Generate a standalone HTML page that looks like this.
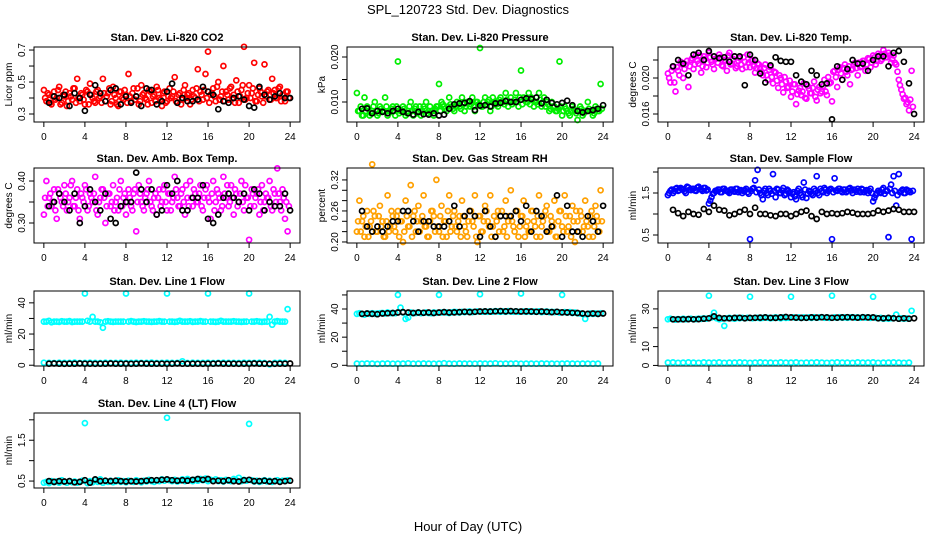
<!DOCTYPE html>
<html><head><meta charset="utf-8"><style>
body{margin:0;background:#fff;}
svg{display:block;font-family:"Liberation Sans",Arial,sans-serif;}
</style></head><body>
<svg id="chart" width="936" height="540" viewBox="0 0 936 540">
<rect x="0" y="0" width="936" height="540" fill="#fff"/>
<text x="468" y="14" text-anchor="middle" font-size="13">SPL_120723  Std. Dev. Diagnostics</text>
<text x="468" y="531" text-anchor="middle" font-size="13">Hour of Day (UTC)</text>
<g id="panels"></g>
</svg>
<script>
// ---- data ----
const co2 = [0.45,0.38,0.42,0.36,0.44,0.40,0.47,0.37,0.41,0.35,0.43,0.39,0.46,0.52,0.38,0.42,0.36,0.44,0.49,0.40,0.37,0.45,0.41,0.52,0.38,0.43,0.36,0.47,0.40,0.35,0.44,0.39,0.42,0.55,0.38,0.46,0.41,0.36,0.48,0.43,0.39,0.45,0.37,0.42,0.47,0.40,0.35,0.44,0.38,0.46,0.41,0.53,0.37,0.43,0.39,0.48,0.42,0.36,0.45,0.40,0.58,0.44,0.39,0.55,0.69,0.42,0.46,0.38,0.50,0.41,0.60,0.44,0.39,0.47,0.42,0.51,0.37,0.45,0.72,0.40,0.48,0.43,0.62,0.38,0.46,0.41,0.61,0.44,0.39,0.52,0.45,0.40,0.47,0.42,0.38,0.44];
const co2B = [0.40,0.43,0.37,0.41,0.39,0.45,0.36,0.42,0.44,0.38,0.41,0.46,0.37,0.40,0.43,0.39,0.45,0.36,0.42,0.38,0.44,0.40,0.37,0.43,0.41,0.46,0.38,0.42,0.36,0.44,0.40,0.45,0.37,0.41,0.43,0.39,0.46,0.38,0.42,0.40,0.36,0.44,0.41,0.38,0.45,0.39,0.43,0.37,0.41,0.40,0.44,0.38,0.42,0.36,0.45,0.40,0.43,0.39,0.41,0.46,0.38,0.42,0.45,0.40,0.37,0.43,0.41,0.47,0.39,0.44,0.38,0.42,0.46,0.40,0.37,0.44,0.41,0.48,0.39,0.43,0.40,0.46,0.38,0.42,0.44,0.37,0.41,0.45,0.39,0.43,0.40,0.46,0.38,0.42,0.44,0.40];
const co2Black = [0.37,0.41,0.40,0.42,0.35,0.43,0.40,0.32,0.42,0.48,0.43,0.38,0.45,0.46,0.36,0.41,0.37,0.41,0.35,0.46,0.45,0.36,0.38,0.44,0.49,0.37,0.40,0.38,0.38,0.39,0.47,0.44,0.42,0.33,0.38,0.37,0.40,0.41,0.39,0.35,0.34,0.47,0.42,0.39,0.41,0.43,0.40,0.40];
const pres = [0.012,0.008,0.007,0.011,0.009,0.007,0.008,0.010,0.007,0.009,0.008,0.011,0.007,0.008,0.009,0.007,0.019,0.008,0.009,0.007,0.008,0.010,0.007,0.009,0.008,0.007,0.009,0.010,0.008,0.008,0.007,0.009,0.014,0.010,0.009,0.008,0.011,0.009,0.008,0.010,0.009,0.011,0.008,0.010,0.009,0.011,0.008,0.010,0.022,0.009,0.011,0.010,0.008,0.011,0.010,0.009,0.011,0.010,0.012,0.009,0.011,0.010,0.012,0.009,0.017,0.011,0.010,0.012,0.011,0.009,0.010,0.012,0.009,0.011,0.010,0.008,0.010,0.009,0.008,0.019,0.007,0.009,0.008,0.007,0.009,0.008,0.006,0.009,0.007,0.008,0.010,0.008,0.007,0.009,0.008,0.014];
const presB = [0.008,0.009,0.007,0.008,0.0085,0.0075,0.009,0.008,0.0075,0.0085,0.008,0.009,0.0075,0.0085,0.008,0.009,0.0075,0.008,0.0085,0.0075,0.009,0.008,0.0085,0.0075,0.009,0.008,0.0085,0.0075,0.009,0.008,0.0085,0.009,0.008,0.0095,0.0085,0.009,0.0095,0.0085,0.009,0.0095,0.0085,0.0095,0.009,0.010,0.0095,0.009,0.010,0.0095,0.009,0.010,0.0095,0.0105,0.009,0.010,0.0095,0.0105,0.010,0.0095,0.0105,0.010,0.0095,0.0105,0.010,0.011,0.0095,0.0105,0.010,0.0095,0.0105,0.010,0.0095,0.0105,0.010,0.009,0.0095,0.0085,0.009,0.008,0.0085,0.009,0.008,0.0085,0.0075,0.008,0.0085,0.0075,0.008,0.0085,0.0075,0.008,0.0085,0.008,0.0075,0.0085,0.008,0.0085];
const presBlack = [0.0085,0.0086,0.0075,0.008,0.0078,0.0075,0.008,0.0085,0.0078,0.0075,0.0072,0.0078,0.0073,0.0072,0.0075,0.007,0.0072,0.0085,0.0095,0.0097,0.0098,0.0102,0.0082,0.0092,0.0093,0.0090,0.0097,0.0098,0.0102,0.0100,0.0100,0.0105,0.0108,0.0107,0.0110,0.0097,0.0105,0.0098,0.0095,0.0098,0.0103,0.0093,0.0080,0.0077,0.0080,0.0082,0.0085,0.0093];
const temp = [0.0205,0.0195,0.0212,0.0185,0.0208,0.0218,0.0200,0.0215,0.0190,0.0220,0.0210,0.0226,0.0216,0.0206,0.0224,0.0212,0.0228,0.0218,0.0210,0.0222,0.0226,0.0214,0.0220,0.0208,0.0228,0.0216,0.0224,0.0213,0.0222,0.0210,0.0218,0.0226,0.0212,0.0220,0.0206,0.0216,0.0210,0.0203,0.0215,0.0198,0.0212,0.0194,0.0206,0.0189,0.0200,0.0184,0.0196,0.0190,0.0179,0.0193,0.0171,0.0186,0.0181,0.0194,0.0177,0.0188,0.0183,0.0196,0.0175,0.0190,0.0185,0.0198,0.0181,0.0194,0.0174,0.0208,0.0190,0.0212,0.0198,0.0215,0.0203,0.0193,0.0210,0.0217,0.0203,0.0212,0.0219,0.0208,0.0222,0.0212,0.0225,0.0215,0.0227,0.0219,0.0231,0.0223,0.0228,0.0217,0.0225,0.0215,0.0198,0.0187,0.0177,0.0171,0.0164,0.0208];
const tempB = [0.0200,0.0208,0.0195,0.0212,0.0203,0.0215,0.0210,0.0219,0.0213,0.0222,0.0215,0.0219,0.0225,0.0213,0.0221,0.0217,0.0223,0.0215,0.0221,0.0217,0.0223,0.0213,0.0219,0.0225,0.0215,0.0221,0.0211,0.0219,0.0215,0.0223,0.0212,0.0217,0.0219,0.0213,0.0211,0.0215,0.0207,0.0211,0.0203,0.0209,0.0201,0.0207,0.0197,0.0203,0.0193,0.0201,0.0189,0.0197,0.0185,0.0193,0.0182,0.0189,0.0185,0.0178,0.0191,0.0183,0.0189,0.0179,0.0187,0.0183,0.0191,0.0185,0.0201,0.0195,0.0207,0.0201,0.0209,0.0205,0.0211,0.0207,0.0213,0.0209,0.0215,0.0211,0.0217,0.0213,0.0219,0.0215,0.0221,0.0217,0.0223,0.0219,0.0225,0.0221,0.0227,0.0223,0.0225,0.0221,0.0217,0.0207,0.0192,0.0182,0.0178,0.0173,0.0176,0.0168];
const tempBlack = [0.0213,0.0220,0.0216,0.0203,0.0226,0.0228,0.0220,0.0230,0.0224,0.0222,0.0223,0.0218,0.0224,0.0224,0.0192,0.0226,0.0220,0.0205,0.0195,0.0214,0.0223,0.0219,0.0218,0.0218,0.0203,0.0196,0.0193,0.0208,0.0203,0.0193,0.0194,0.0154,0.0213,0.0198,0.0210,0.0220,0.0216,0.0216,0.0208,0.0220,0.0224,0.0224,0.0213,0.0228,0.0230,0.0218,0.0194,0.0160];
const amb = [0.32,0.40,0.36,0.34,0.38,0.31,0.37,0.35,0.39,0.33,0.36,0.40,0.34,0.38,0.31,0.36,0.39,0.33,0.37,0.35,0.41,0.32,0.36,0.38,0.30,0.37,0.34,0.39,0.35,0.33,0.40,0.36,0.32,0.38,0.34,0.37,0.28,0.39,0.35,0.33,0.37,0.40,0.34,0.36,0.32,0.38,0.35,0.39,0.33,0.37,0.35,0.41,0.36,0.34,0.38,0.32,0.36,0.40,0.34,0.37,0.35,0.39,0.33,0.38,0.36,0.31,0.40,0.35,0.37,0.33,0.41,0.36,0.34,0.39,0.32,0.37,0.35,0.40,0.33,0.36,0.26,0.38,0.34,0.37,0.32,0.39,0.35,0.36,0.40,0.33,0.37,0.43,0.35,0.38,0.31,0.28];
const ambB = [0.36,0.34,0.37,0.35,0.33,0.38,0.36,0.34,0.37,0.35,0.39,0.34,0.36,0.33,0.37,0.35,0.38,0.34,0.36,0.37,0.33,0.35,0.38,0.36,0.34,0.37,0.35,0.33,0.36,0.38,0.34,0.37,0.35,0.36,0.33,0.38,0.35,0.37,0.34,0.36,0.38,0.35,0.33,0.37,0.36,0.34,0.38,0.35,0.37,0.33,0.36,0.38,0.34,0.37,0.35,0.39,0.34,0.36,0.38,0.35,0.37,0.34,0.36,0.39,0.35,0.37,0.33,0.38,0.36,0.34,0.37,0.39,0.35,0.36,0.38,0.34,0.37,0.35,0.39,0.36,0.34,0.37,0.36,0.38,0.35,0.33,0.37,0.36,0.34,0.38,0.35,0.37,0.33,0.36,0.35,0.34];
const ambBlack = [0.34,0.35,0.37,0.35,0.33,0.37,0.30,0.34,0.38,0.35,0.33,0.37,0.31,0.30,0.34,0.35,0.35,0.42,0.38,0.35,0.38,0.32,0.33,0.39,0.37,0.40,0.33,0.33,0.36,0.36,0.39,0.31,0.30,0.32,0.36,0.37,0.36,0.35,0.37,0.33,0.38,0.37,0.33,0.35,0.34,0.34,0.37,0.33];
const rh = [0.22,0.28,0.24,0.21,0.26,0.23,0.35,0.25,0.22,0.27,0.24,0.21,0.29,0.23,0.25,0.22,0.26,0.24,0.20,0.28,0.23,0.31,0.25,0.22,0.27,0.24,0.29,0.23,0.21,0.26,0.25,0.32,0.22,0.27,0.24,0.21,0.29,0.23,0.26,0.22,0.25,0.28,0.23,0.21,0.26,0.24,0.29,0.20,0.25,0.22,0.27,0.24,0.29,0.23,0.21,0.26,0.25,0.22,0.28,0.24,0.30,0.23,0.26,0.21,0.25,0.28,0.23,0.22,0.26,0.24,0.21,0.29,0.23,0.25,0.27,0.22,0.24,0.28,0.21,0.26,0.23,0.29,0.22,0.25,0.27,0.20,0.24,0.26,0.22,0.28,0.23,0.25,0.21,0.27,0.24,0.30];
const rhB = [0.24,0.22,0.25,0.23,0.21,0.24,0.26,0.22,0.25,0.23,0.21,0.24,0.22,0.26,0.23,0.25,0.21,0.24,0.22,0.25,0.23,0.21,0.26,0.24,0.22,0.25,0.23,0.21,0.24,0.26,0.22,0.23,0.25,0.21,0.24,0.26,0.22,0.25,0.23,0.24,0.21,0.25,0.22,0.24,0.26,0.23,0.21,0.25,0.22,0.24,0.26,0.23,0.21,0.25,0.24,0.22,0.26,0.23,0.21,0.25,0.24,0.22,0.26,0.23,0.25,0.21,0.24,0.22,0.26,0.23,0.25,0.21,0.24,0.26,0.22,0.25,0.23,0.21,0.24,0.26,0.22,0.25,0.23,0.21,0.24,0.26,0.22,0.25,0.23,0.24,0.21,0.26,0.23,0.25,0.22,0.24];
const rhBlack = [0.26,0.23,0.22,0.23,0.22,0.23,0.24,0.24,0.26,0.26,0.24,0.22,0.24,0.24,0.23,0.23,0.23,0.24,0.27,0.23,0.25,0.26,0.25,0.21,0.26,0.23,0.21,0.25,0.25,0.25,0.26,0.24,0.27,0.22,0.26,0.25,0.22,0.23,0.29,0.21,0.27,0.22,0.22,0.21,0.25,0.24,0.22,0.27];
const flow = [1.45,1.55,1.50,1.60,1.55,1.62,1.58,1.50,1.63,1.57,1.60,1.55,1.65,1.58,1.62,1.56,1.25,1.40,1.50,1.55,1.58,1.52,1.60,1.55,1.50,1.58,1.53,1.60,1.55,1.50,1.57,1.52,0.40,1.60,1.80,2.05,1.50,1.35,1.60,1.45,1.55,1.95,1.40,1.58,1.50,1.62,1.48,1.55,1.40,1.52,1.35,1.60,1.45,1.75,1.38,1.55,1.48,1.60,1.90,1.45,1.55,1.62,1.50,1.58,0.40,1.85,1.55,1.60,1.52,1.58,1.55,1.62,1.50,1.57,1.60,1.52,1.58,1.55,1.50,1.60,1.30,1.45,1.55,1.50,1.62,1.55,0.45,1.70,1.90,1.20,1.95,1.55,1.50,1.58,1.55,0.40];
const flowB = [1.50,1.58,1.55,1.62,1.57,1.60,1.54,1.65,1.58,1.60,1.56,1.63,1.59,1.55,1.62,1.58,1.32,1.48,1.55,1.58,1.52,1.60,1.56,1.53,1.58,1.55,1.60,1.52,1.57,1.55,1.60,1.48,1.55,1.62,1.52,1.58,1.45,1.55,1.50,1.60,1.48,1.55,1.60,1.50,1.56,1.45,1.58,1.52,1.48,1.42,1.55,1.50,1.40,1.58,1.48,1.52,1.45,1.55,1.50,1.60,1.52,1.58,1.55,1.60,1.52,1.56,1.60,1.55,1.58,1.52,1.60,1.56,1.58,1.53,1.55,1.60,1.52,1.57,1.55,1.50,1.38,1.50,1.52,1.58,1.48,1.55,1.60,1.50,1.55,1.45,1.52,1.58,1.50,1.55,1.52,1.55];
const flowBlack = [1.10,1.02,0.95,1.05,1.00,0.98,1.12,1.05,1.20,1.10,1.08,0.97,1.00,1.05,1.10,1.00,1.15,1.00,1.00,0.97,0.95,1.00,1.00,0.95,1.00,1.05,1.08,0.95,0.88,1.05,1.00,1.02,1.00,1.02,1.05,1.03,1.00,1.00,1.00,1.02,1.08,1.05,1.08,1.12,1.10,1.05,1.05,1.05];
const line1Hi = [28,28,28.5,27.5,28,28,27.8,28.2,28,28,28.3,27.7,28,28,28,28,46,28.5,28,31,28,28,27.5,24,28,28.2,28,27.8,28,28,28,28,46,28,28.3,28,27.7,28,28,28.2,28,28,27.8,28,28,28.3,28,28,46,28,28,27.8,28,28.5,28,28,28,28.2,27.8,28,28,28.3,28,28,46,28,28,27.8,28,28.5,28,28,28,28,28.2,28,28,27.8,28,28,46,28,28,28.2,28,27.8,28,28,31,26,28,28.3,28,28,28,36];
const line1Lo = [1.6,1.5,1.4,1.6,1.5,1.5,1.7,1.4,1.5,1.6,1.5,1.4,1.6,1.5,1.5,1.6,1.4,1.5,1.6,1.5,1.5,1.7,1.4,1.5,1.6,1.5,1.5,2.5,1.4,1.6,1.5,1.5,1.6,1.4,1.5,1.6,1.5,1.5,1.4,1.6,1.5,1.5,1.6,1.4,0.5,1.5,1.6,1.5];
const line1Black = [1.0,1.1,1.0,0.9,1.0,1.0,1.1,1.0,1.0,0.9,1.0,1.0,1.1,1.0,1.0,1.0,0.9,1.0,1.1,1.0,1.0,1.0,1.0,0.9,1.0,1.1,1.0,1.0,1.0,1.0,0.9,1.0,1.0,1.1,1.0,1.0,1.0,0.9,1.0,1.0,1.1,1.0,1.0,1.0,0.9,1.0,1.0,1.1];
const line2Hi = [36.5,37,36.5,36,36.8,36.5,37,36.5,36.8,37,37.2,36.8,37.5,37,37.2,37,50,41,37.5,33,34,37.5,37,37.2,37.5,37,37.3,37.5,37.2,37,37.5,37.3,50,37.5,37.8,37.5,37.2,37.6,38,37.8,37.5,38,37.8,38,38.2,37.8,38,38.2,50.5,38,38.2,38,38.3,38,38.5,38.2,38,38.3,38,38.5,38.2,38,38.3,38,51,38.2,38,38.3,38,38.2,38,38.3,37.8,38,38.2,37.8,38,37.8,38,37.5,50,37.8,37.5,37.8,37.2,37.5,37,36.8,36.5,33,36.5,36.8,36.5,36.8,36.5,37];
const line2Lo = [1.2,1.1,1.3,1.2,1.0,1.2,1.3,1.1,1.2,1.2,1.4,1.1,1.2,1.3,1.2,1.1,1.2,1.5,1.2,1.1,1.3,1.2,1.2,1.1,1.3,1.2,1.2,1.4,1.1,1.2,1.2,1.3,1.1,1.2,1.2,1.1,1.3,1.2,1.2,1.1,1.2,1.3,1.2,1.1,1.2,1.2,1.1,1.2];
const line2Black = [36.5,36.8,36.5,36.3,36.8,37,37.2,37.5,37.8,37.5,37.2,37.5,37.3,37.5,37.2,37.5,37.8,37.5,37.6,37.8,38,37.8,38,38.2,38.3,38.2,38.4,38.5,38.3,38.5,38.4,38.2,38.3,38.2,38,38.2,38,37.8,38,37.6,37.5,37.3,37.2,36.8,36.5,36.8,36.5,36.8];
const line3Hi = [24.5,24.8,24.5,24.3,24.6,24.5,24.8,24.5,24.6,24.8,24.5,24.6,24.8,24.7,25,24.8,37,25.5,28,25,24.5,24.8,21,25,25.2,25,24.8,25.2,25,25.3,25,25.2,36.5,25,25.2,25.3,25,25.2,25.5,25.3,25,25.2,25.5,25.3,25,25.5,25.2,25.3,36.5,25.5,25.3,25.5,25.2,25.5,25.3,25.5,25.2,25.6,25.3,25.5,25.6,25.3,25.5,25.2,37,25.5,25.3,25.6,25.4,25.5,25.3,25.5,25.6,25.4,25.5,25.3,25.6,25.4,25.5,25.2,36.5,25.3,25,25.2,24.8,25,24.8,25,25,27,24.8,25,24.8,25,24.8,29];
const line3Lo = [1.5,1.6,1.4,1.5,1.6,1.5,1.4,1.6,1.5,1.5,1.6,1.4,1.5,1.5,1.6,1.5,1.4,1.5,1.6,1.5,1.5,1.4,1.6,1.5,1.5,1.6,1.4,1.5,1.5,1.6,1.5,1.4,1.5,1.6,1.5,1.5,1.4,1.6,1.5,1.5,1.6,1.4,1.5,1.5,1.6,1.5,1.4,1.5];
const line3Black = [24.5,24.5,24.5,24.6,24.5,24.6,24.8,25,26,25.2,25,25,25.2,25.3,25,25.2,25.3,25.4,25.5,25.3,25.2,25.5,25.7,25.5,25.4,25.2,25.3,25.5,25.4,25.6,25.5,25.3,25.4,25.5,25.6,25.5,25.4,25.6,25.5,25.5,25,25,25.2,25,24.8,25,24.8,25];
const line4 = [0.46,0.48,0.45,0.50,0.47,0.49,0.46,0.52,0.48,0.46,0.50,0.47,0.49,0.46,0.48,0.51,1.92,0.45,0.50,0.47,0.52,0.48,0.54,0.46,0.50,0.48,0.51,0.47,0.49,0.52,0.48,0.50,0.47,0.51,0.49,0.48,0.52,0.50,0.47,0.51,0.49,0.53,0.50,0.48,0.52,0.50,0.54,0.51,2.05,0.52,0.50,0.53,0.49,0.51,0.54,0.50,0.55,0.52,0.50,0.53,0.51,0.55,0.52,0.56,0.50,0.53,0.51,0.54,0.50,0.52,0.49,0.53,0.51,0.50,0.55,0.52,0.58,0.50,0.53,0.51,1.90,0.52,0.49,0.51,0.48,0.50,0.52,0.49,0.51,0.48,0.50,0.52,0.49,0.51,0.50,0.52];
const line4Black = [0.50,0.48,0.50,0.49,0.50,0.47,0.48,0.52,0.46,0.54,0.50,0.51,0.50,0.51,0.50,0.49,0.50,0.49,0.50,0.51,0.52,0.52,0.53,0.54,0.52,0.51,0.52,0.51,0.53,0.55,0.53,0.55,0.50,0.51,0.50,0.52,0.50,0.49,0.52,0.53,0.50,0.50,0.51,0.49,0.50,0.48,0.50,0.51];
// tick values and labels
const ticksCo2 = [0.3,0.4,0.5,0.6,0.7], labelsCo2 = ["0.3","","0.5","","0.7"];
const ticksPres = [0.010,0.015,0.020], labelsPres = ["0.010","","0.020"];
const ticksTemp = [0.016,0.018,0.020,0.022], labelsTemp = ["0.016","","0.020",""];
const ticksAmb = [0.30,0.35,0.40], labelsAmb = ["0.30","","0.40"];
const ticksRh = [0.20,0.22,0.24,0.26,0.28,0.30,0.32], labelsRh = ["0.20","","","0.26","","","0.32"];
const ticksFlow = [0.5,1.0,1.5,2.0], labelsFlow = ["0.5","","1.5",""];
const ticksL1 = [0,10,20,30,40], labelsL1 = ["0","","20","","40"];
const ticksL2 = [0,10,20,30,40,50], labelsL2 = ["0","","20","","40",""];
const ticksL3 = [0,10,20,30], labelsL3 = ["0","10","","30"];
const ticksL4 = [0.5,1.0,1.5,2.0], labelsL4 = ["0.5","","1.5",""];
const xTicks = [0,4,8,12,16,20,24];

const NS = "http://www.w3.org/2000/svg";
const root = document.getElementById('panels');
function mk(tag, attrs, parent){const e=document.createElementNS(NS,tag);for(const k in attrs)e.setAttribute(k,attrs[k]);parent.appendChild(e);return e;}

// series: [values, color, pointsPerHour, timeOffset]
const panels = [
 {id:'co2',title:'Stan. Dev. Li-820 CO2',ylab:'Licor ppm',col:0,row:0,ymin:0.25,ymax:0.719,ticks:ticksCo2,labels:labelsCo2,series:[[co2,'#ff0000',4,0],[co2B,'#ff0000',4,0.125],[co2Black,'#000',2,0]]},
 {id:'pressure',title:'Stan. Dev. Li-820 Pressure',ylab:'kPa',col:1,row:0,ymin:0.00556,ymax:0.02222,ticks:ticksPres,labels:labelsPres,series:[[pres,'#00ee00',4,0],[presB,'#00ee00',4,0.125],[presBlack,'#000',2,0]]},
 {id:'temp',title:'Stan. Dev. Li-820 Temp.',ylab:'degrees C',col:2,row:0,ymin:0.015111,ymax:0.023444,ticks:ticksTemp,labels:labelsTemp,series:[[temp,'#ff00ff',4,0],[tempB,'#ff00ff',4,0.125],[tempBlack,'#000',2,0]]},
 {id:'amb',title:'Stan. Dev. Amb. Box Temp.',ylab:'degrees C',col:0,row:1,ymin:0.2524,ymax:0.431,ticks:ticksAmb,labels:labelsAmb,series:[[amb,'#ff00ff',4,0],[ambB,'#ff00ff',4,0.125],[ambBlack,'#000',2,0]]},
 {id:'rh',title:'Stan. Dev. Gas Stream RH',ylab:'percent',col:1,row:1,ymin:0.198,ymax:0.3431,ticks:ticksRh,labels:labelsRh,series:[[rh,'#ffa000',4,0],[rhB,'#ffa000',4,0.125],[rhBlack,'#000',2,0]]},
 {id:'flow',title:'Stan. Dev. Sample Flow',ylab:'ml/min',col:2,row:1,ymin:0.3095,ymax:2.095,ticks:ticksFlow,labels:labelsFlow,series:[[flow,'#0000ff',4,0],[flowB,'#0000ff',4,0.125],[flowBlack,'#000',2,0]]},
 {id:'line1',title:'Stan. Dev. Line 1 Flow',ylab:'ml/min',col:0,row:2,ymin:-0.5,ymax:47.6,ticks:ticksL1,labels:labelsL1,series:[[line1Hi,'#00ffff',4,0],[line1Lo,'#00ffff',2,-0.5],[line1Black,'#000',2,0]]},
 {id:'line2',title:'Stan. Dev. Line 2 Flow',ylab:'ml/min',col:1,row:2,ymin:-0.5,ymax:52.8,ticks:ticksL2,labels:labelsL2,series:[[line2Hi,'#00ffff',4,0],[line2Lo,'#00ffff',2,-0.5],[line2Black,'#000',2,0]]},
 {id:'line3',title:'Stan. Dev. Line 3 Flow',ylab:'ml/min',col:2,row:2,ymin:-0.3,ymax:39.5,ticks:ticksL3,labels:labelsL3,series:[[line3Hi,'#00ffff',4,0],[line3Lo,'#00ffff',2,-0.5],[line3Black,'#000',2,0]]},
 {id:'line4',title:'Stan. Dev. Line 4 (LT) Flow',ylab:'ml/min',col:0,row:3,ymin:0.33,ymax:2.167,ticks:ticksL4,labels:labelsL4,series:[[line4,'#00ffff',4,0],[line4Black,'#000',2,0]]}
];
const colX=[34,347,658], rowY=[47,168,291,413], W=266, H=75;

panels.forEach(p=>{
  const L=colX[p.col], T=rowY[p.row];
  const g=mk('g',{},root);
  
  
  const xs=t=>L+(t+0.96)/25.92*W;
  const ys=v=>T+H-(v-p.ymin)/(p.ymax-p.ymin)*H;
  const tt=mk('text',{x:L+W/2,y:T-6,'text-anchor':'middle','font-size':'11','font-weight':'bold'},g);
  tt.textContent=p.title;
  
  
  p.series.forEach(s=>{
    const [vals,color,perHour,off]=s;
    const sg=mk('g',{},g);
    
    
    vals.forEach((v,i)=>{
      const t = (perHour===4 ? i/4 : 0.5+i*0.5) + off;
      const c=mk('circle',{cx:xs(t).toFixed(1),cy:ys(v).toFixed(1),r:2.5,fill:'none',stroke:color,'stroke-width':1.7},sg);
      
      
    });
  });
  const box=mk('rect',{x:L,y:T,width:W,height:H,fill:'none',stroke:'#000','stroke-width':1},g);
  
  
  const xa=mk('g',{},g);
  
  
  mk('line',{x1:xs(0),x2:xs(24),y1:T+H,y2:T+H,stroke:'#000'},xa);
  xTicks.forEach(t=>{
    mk('line',{x1:xs(t),x2:xs(t),y1:T+H,y2:T+H+5,stroke:'#000'},xa);
    const lb=mk('text',{x:xs(t),y:T+H+18,'text-anchor':'middle','font-size':'10'},xa);
    lb.textContent=t;
    
    
  });
  const ya=mk('g',{},g);
  
  
  mk('line',{x1:L,x2:L,y1:ys(p.ticks[0]),y2:ys(p.ticks[p.ticks.length-1]),stroke:'#000'},ya);
  p.ticks.forEach((v,i)=>{
    const y=ys(v);
    mk('line',{x1:L-5,x2:L,y1:y,y2:y,stroke:'#000'},ya);
    if(p.labels[i]){
      const lb=mk('text',{x:L-9,y:y,'text-anchor':'middle','font-size':'10',transform:`rotate(-90 ${L-9} ${y})`},ya);
      lb.textContent=p.labels[i];
      
      
    }
  });
  const yl=mk('text',{x:L-22,y:T+H/2,'text-anchor':'middle','font-size':'10',transform:`rotate(-90 ${L-22} ${T+H/2})`},g);
  yl.textContent=p.ylab;
  
  
});
</script>
</body></html>
